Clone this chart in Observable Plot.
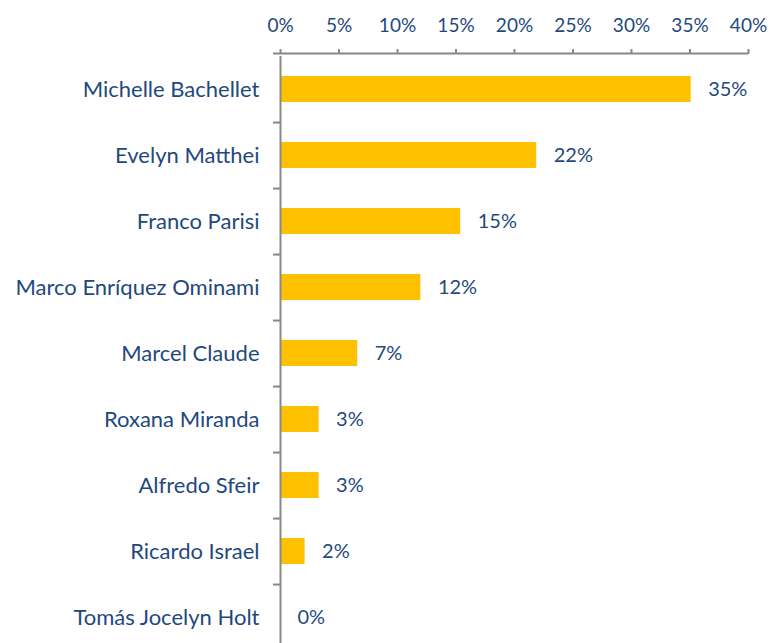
<!DOCTYPE html>
<html>
<head>
<meta charset="utf-8">
<script src="https://cdn.jsdelivr.net/npm/d3@7"></script>
<script src="https://cdn.jsdelivr.net/npm/@observablehq/plot@0.6"></script>
<style>
  html, body { margin: 0; padding: 0; background: #fff; }
  #chart svg { display: block; }
</style>
</head>
<body>
<div id="chart"></div>
<script>
const candidates = [
  "Michelle Bachellet",
  "Evelyn Matthei",
  "Franco Parisi",
  "Marco Enríquez Ominami",
  "Marcel Claude",
  "Roxana Miranda",
  "Alfredo Sfeir",
  "Ricardo Israel",
  "Tomás Jocelyn Holt"
];
const shares = [0.351, 0.219, 0.154, 0.120, 0.066, 0.033, 0.033, 0.021, 0.000];
const xTicks = [0, 0.05, 0.10, 0.15, 0.20, 0.25, 0.30, 0.35, 0.40];

const data = candidates.map((name, i) => ({name, share: shares[i]}));

const textColor = "#1F497D";
const axisColor = "#888888";
const fontFamily = "Lato, 'Open Sans', sans-serif";
const yTop = 56, yBottom = 651;
const halfBand = (yBottom - yTop) / candidates.length / 2;

const chart = Plot.plot({
  width: 773,
  height: 643,
  marginLeft: 280,
  marginRight: 25,
  marginTop: 56,
  marginBottom: 0,
  style: {fontFamily, fontSize: "19px", color: textColor, background: "#fff"},
  x: {domain: [0, 0.4], axis: null},
  y: {domain: candidates, range: [yTop, yBottom], paddingInner: 0.6, paddingOuter: 0.3, axis: null},
  marks: [
    Plot.barX(data, {x: "share", y: "name", fill: "#FFC000"}),
    Plot.text(data, {
      x: "share", y: "name",
      text: d => Math.round(d.share * 100) + "%",
      textAnchor: "start", dx: 17, fill: textColor, fontSize: 20
    }),
    // vertical axis line
    Plot.ruleX([0], {stroke: axisColor, strokeWidth: 2}),
    // top horizontal axis line
    Plot.ruleY([candidates[0]], {dy: -halfBand - 3, stroke: axisColor, strokeWidth: 2, insetLeft: -7, insetRight: 0}),
    // category boundary ticks
    Plot.axisY({
      label: null, tickSize: 7, tickFormat: () => "", dy: halfBand,
      stroke: axisColor, strokeWidth: 2
    }),
    // category labels
    Plot.axisY({
      label: null, tickSize: 0, tickPadding: 21, fill: textColor, fontSize: 22,
      letterSpacing: 0.6
    }),
    // top x axis
    Plot.axisX(xTicks, {
      label: null, anchor: "top", tickSize: 5, tickPadding: 17, dy: -3,
      tickFormat: d => Math.round(d * 100) + "%",
      stroke: axisColor, strokeWidth: 2, fill: textColor, fontSize: 19
    })
  ]
});
document.getElementById("chart").appendChild(chart);
</script>
</body>
</html>
